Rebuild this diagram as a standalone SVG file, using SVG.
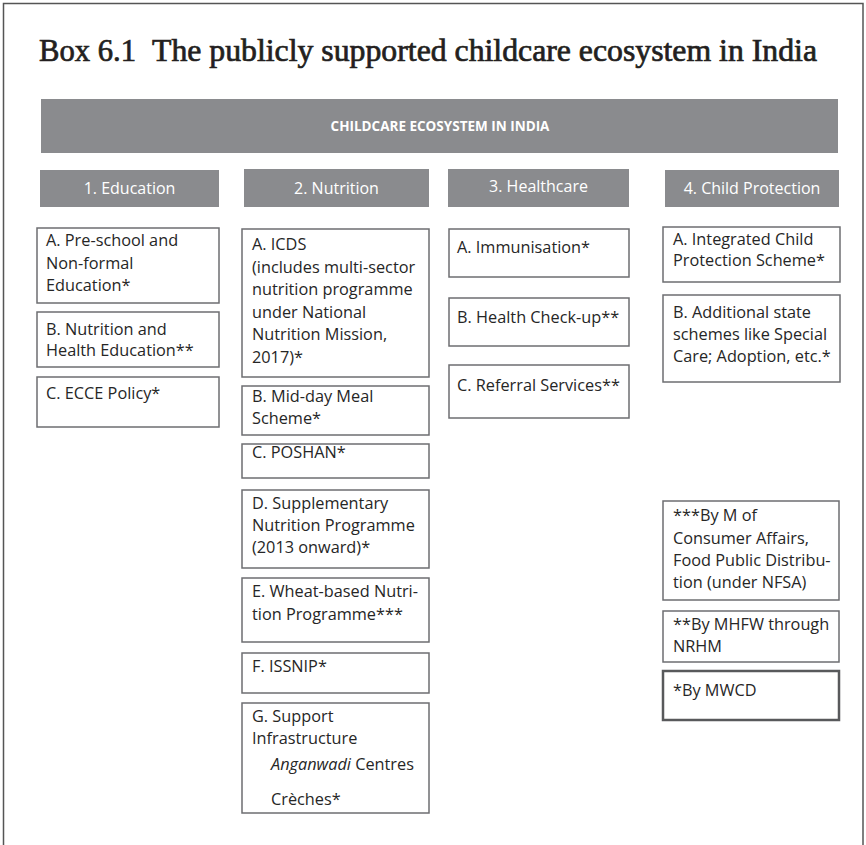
<svg xmlns="http://www.w3.org/2000/svg" width="866" height="845" viewBox="0 0 866 845">
<style>
.frame{fill:none;stroke:#555;stroke-width:1.5}
.title{font-family:"Liberation Serif",serif;font-size:31px;fill:#231f20;stroke:#231f20;stroke-width:0.7}
.bar{fill:#8a8b8e}
.bartxt{font-family:"Open Sans",sans-serif;font-weight:bold;font-size:13.5px;fill:#fff;text-anchor:middle}
.hdtxt{font-family:"Open Sans",sans-serif;font-size:16px;fill:#fff;text-anchor:middle}
.box{fill:#fff;stroke:#6d6e71;stroke-width:1.5}
.boxk{fill:#fff;stroke:#58595b;stroke-width:2.5}
.t{font-family:"Open Sans",sans-serif;font-size:16.3px;fill:#262626}
.it{font-style:italic}
</style>
<path class="frame" d="M3.5,845 V3.5 H863 V845"/>
<text class="title" x="39" y="61"><tspan textLength="97" lengthAdjust="spacingAndGlyphs">Box 6.1</tspan><tspan x="152" textLength="665" lengthAdjust="spacingAndGlyphs">The publicly supported childcare ecosystem in India</tspan></text>
<g id="banner">
<rect class="bar" x="41" y="99" width="797" height="54"/>
<text class="bartxt" x="440" y="131">CHILDCARE ECOSYSTEM IN INDIA</text>
</g>
<g id="h-education"><rect class="bar" x="40" y="170" width="179" height="37"/><text class="hdtxt" x="129.5" y="194">1. Education</text></g>
<g id="h-nutrition"><rect class="bar" x="244" y="169" width="185" height="38"/><text class="hdtxt" x="336.5" y="194">2. Nutrition</text></g>
<g id="h-healthcare"><rect class="bar" x="448" y="169" width="181" height="38"/><text class="hdtxt" x="538.5" y="192">3. Healthcare</text></g>
<g id="h-protection"><rect class="bar" x="665" y="170" width="174" height="37"/><text class="hdtxt" x="752" y="194">4. Child Protection</text></g>

<g id="edu-a"><rect class="box" x="37" y="228" width="182" height="75"/><text class="t"><tspan x="46" y="246">A. Pre-school and</tspan><tspan x="46" y="269">Non-formal</tspan><tspan x="46" y="291">Education*</tspan></text></g>
<g id="edu-b"><rect class="box" x="37" y="312" width="182" height="55"/><text class="t"><tspan x="46" y="335">B. Nutrition and</tspan><tspan x="46" y="356">Health Education**</tspan></text></g>
<g id="edu-c"><rect class="box" x="37" y="377" width="182" height="50"/><text class="t"><tspan x="46" y="399">C. ECCE Policy*</tspan></text></g>

<g id="nut-a"><rect class="box" x="242" y="229" width="187" height="148"/><text class="t"><tspan x="252" y="250">A. ICDS</tspan><tspan x="252" y="272.5">(includes multi-sector</tspan><tspan x="252" y="295">nutrition programme</tspan><tspan x="252" y="317.5">under National</tspan><tspan x="252" y="340">Nutrition Mission,</tspan><tspan x="252" y="362.5">2017)*</tspan></text></g>
<g id="nut-b"><rect class="box" x="242" y="386" width="187" height="49"/><text class="t"><tspan x="252" y="402">B. Mid-day Meal</tspan><tspan x="252" y="424">Scheme*</tspan></text></g>
<g id="nut-c"><rect class="box" x="242" y="444" width="187" height="34"/><text class="t"><tspan x="252" y="458">C. POSHAN*</tspan></text></g>
<g id="nut-d"><rect class="box" x="242" y="490" width="187" height="78"/><text class="t"><tspan x="252" y="509">D. Supplementary</tspan><tspan x="252" y="531">Nutrition Programme</tspan><tspan x="252" y="553">(2013 onward)*</tspan></text></g>
<g id="nut-e"><rect class="box" x="242" y="578" width="187" height="64"/><text class="t"><tspan x="252" y="597">E. Wheat-based Nutri-</tspan><tspan x="252" y="620">tion Programme***</tspan></text></g>
<g id="nut-f"><rect class="box" x="242" y="653" width="187" height="40"/><text class="t"><tspan x="252" y="672">F. ISSNIP*</tspan></text></g>
<g id="nut-g"><rect class="box" x="242" y="703" width="187" height="110"/><text class="t"><tspan x="252" y="722">G. Support</tspan><tspan x="252" y="744">Infrastructure</tspan><tspan x="271" y="770"><tspan class="it">Anganwadi</tspan> Centres</tspan><tspan x="271" y="805">Crèches*</tspan></text></g>

<g id="hc-a"><rect class="box" x="449" y="229" width="180" height="48"/><text class="t"><tspan x="457" y="253">A. Immunisation*</tspan></text></g>
<g id="hc-b"><rect class="box" x="449" y="298" width="180" height="48"/><text class="t"><tspan x="457" y="323">B. Health Check-up**</tspan></text></g>
<g id="hc-c"><rect class="box" x="449" y="365" width="180" height="53"/><text class="t"><tspan x="457" y="391">C. Referral Services**</tspan></text></g>

<g id="cp-a"><rect class="box" x="663" y="227" width="177" height="55"/><text class="t"><tspan x="673" y="245">A. Integrated Child</tspan><tspan x="673" y="266">Protection Scheme*</tspan></text></g>
<g id="cp-b"><rect class="box" x="663" y="295" width="177" height="87"/><text class="t"><tspan x="673" y="318">B. Additional state</tspan><tspan x="673" y="340">schemes like Special</tspan><tspan x="673" y="362">Care; Adoption, etc.*</tspan></text></g>

<g id="legend-3"><rect class="box" x="663" y="501" width="176" height="99"/><text class="t"><tspan x="673" y="521">***By M of</tspan><tspan x="673" y="544">Consumer Affairs,</tspan><tspan x="673" y="566">Food Public Distribu-</tspan><tspan x="673" y="588">tion (under NFSA)</tspan></text></g>
<g id="legend-2"><rect class="box" x="663" y="611" width="176" height="51"/><text class="t"><tspan x="673" y="630">**By MHFW through</tspan><tspan x="673" y="652">NRHM</tspan></text></g>
<g id="legend-1"><rect class="boxk" x="663" y="671" width="176" height="49"/><text class="t"><tspan x="673" y="696">*By MWCD</tspan></text></g>
<g id="connectors"></g>
</svg>
